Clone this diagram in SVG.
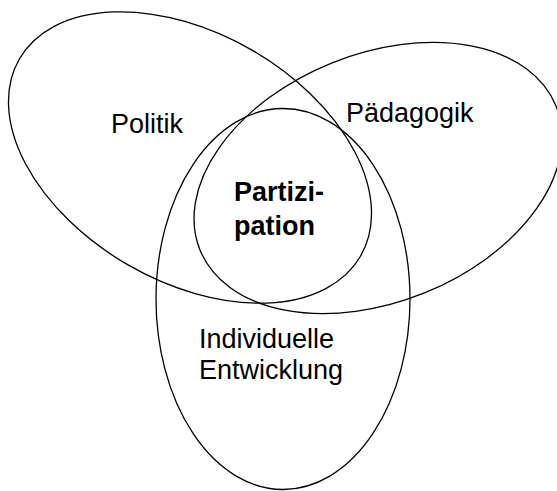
<svg xmlns="http://www.w3.org/2000/svg" width="557" height="491" viewBox="0 0 557 491">
  <style>
    .set { fill: none; stroke: #000; stroke-width: 1.3; }
    .lbl { font-family: "Liberation Sans", Arial, sans-serif; font-size: 27px; fill: #000; }
    .core { font-weight: bold; }
  </style>
  <rect x="0" y="0" width="557" height="491" fill="#fff"/>
  <g id="politik">
    <ellipse class="set" cx="190" cy="157.5" rx="197" ry="124" transform="rotate(30 190 157.5)"/>
    <text class="lbl" x="111" y="133">Politik</text>
  </g>
  <g id="paedagogik">
    <ellipse class="set" cx="378" cy="178" rx="192" ry="124" transform="rotate(-22 378 178)"/>
    <text class="lbl" x="346" y="122">Pädagogik</text>
  </g>
  <g id="entwicklung">
    <ellipse class="set" cx="283" cy="299" rx="127" ry="190.5"/>
    <text class="lbl" x="199" y="348">Individuelle</text>
    <text class="lbl" x="199" y="379">Entwicklung</text>
  </g>
  <g id="partizipation">
    <text class="lbl core" x="234" y="201">Partizi-</text>
    <text class="lbl core" x="234" y="235">pation</text>
  </g>
  <g id="connectors"/>
</svg>
